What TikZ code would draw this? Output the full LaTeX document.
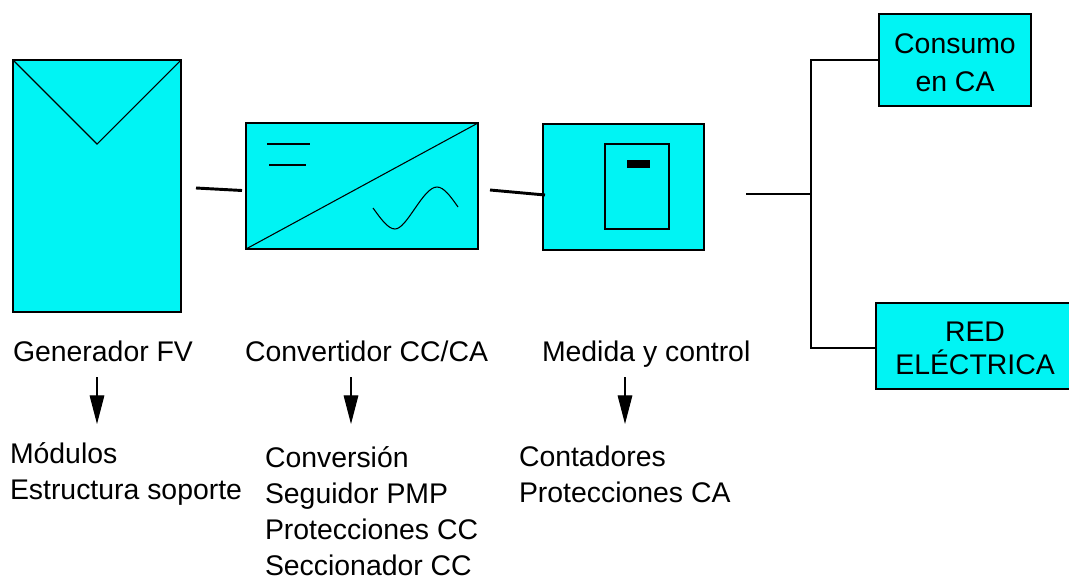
\documentclass[tikz,border=0pt]{standalone}
\usepackage{fontspec}
\setmainfont{Liberation Sans}
\usetikzlibrary{arrows.meta}
\definecolor{panelcyan}{RGB}{0,244,244}
\tikzset{
    block/.style={draw, fill=panelcyan, line width=0.85pt, inner sep=0pt, outer sep=0pt},
    label/.style={inner sep=0pt, outer sep=0pt, align=left, anchor=base west, text depth=0pt, font=\fontsize{21.3}{27}\selectfont},
    boxtext/.style={inner sep=0pt, outer sep=0pt, align=center, font=\fontsize{21.3}{#1}\selectfont},
    wire/.style={line width=2.2pt},
    thin line/.style={line width=0.8pt},
    down/.style={-{Triangle[length=21.5pt,width=11pt]}, line width=0.8pt}
}
\begin{document}
\begin{tikzpicture}[x=0.75pt, y=-0.75pt]
    \useasboundingbox (0,0) rectangle (1069,578);
    % blocks
    \node[block, minimum width=126pt, minimum height=189pt] (gen) at (97,186) {};
    \node[block, minimum width=174pt, minimum height=94.5pt] (conv) at (362,186) {};
    \node[block, minimum width=120.75pt, minimum height=94.5pt] (meter) at (623.5,187) {};
    \node[block, minimum width=48pt, minimum height=63.75pt] (cabinet) at (637,186.5) {};
    \node[fill=black, inner sep=0pt, minimum width=17pt, minimum height=6pt] (display) at (638.5,164) {};
    \node[block, minimum width=114pt, minimum height=69pt] (load) at (955,60) {};
    \node[block, minimum width=148.5pt, minimum height=64.5pt] (grid) at (975,346) {};
    \node[boxtext=28.5] (loadtext) at (955,62.5) {Consumo\\en CA};
    \node[boxtext=24.75] (gridtext) at (975,348.5) {RED\\ELÉCTRICA};
    % symbols
    \coordinate (tip) at (97,144);
    \draw[thin line] (gen.north west) -- (tip) -- (gen.north east);
    \draw[thin line] (conv.south west) -- (conv.north east);
    \draw[thin line] (267,144) -- (310,144);
    \draw[thin line] (269,165) -- (306,165);
    \draw[thin line] (373,208) .. controls (381,219) and (388,229) .. (395,229)
        .. controls (407,229) and (423,187) .. (437,187) .. controls (444,187) and (451,197) .. (458,207);
    % wires
    \coordinate (genout) at (196,188);
    \coordinate (convin) at (242,190.5);
    \coordinate (convout) at (490,190);
    \coordinate (meterin) at (545,195);
    \coordinate (meterout) at (746,194);
    \coordinate (bus) at (811,194);
    \coordinate (gridin) at (876,348);
    \draw[wire] (genout) -- (convin);
    \draw[wire] (convout) -- (meterin);
    \draw[wire] (meterout) -- (bus);
    \draw[wire] (load.west) -| (bus) |- (gridin);
    % labels
    \node[label] (genlabel) at (13,361) {Generador FV};
    \node[label] (convlabel) at (245,361) {Convertidor CC/CA};
    \node[label] (meterlabel) at (542,361) {Medida y control};
    \node[label] (genlist) at (10,499) {Módulos\\Estructura soporte};
    \node[label] (convlist) at (265,575) {Conversión\\Seguidor PMP\\Protecciones CC\\Seccionador CC};
    \node[label] (meterlist) at (519,502) {Contadores\\Protecciones CA};
    % arrows
    \draw[down] (97,377) -- (97,424);
    \draw[down] (351,377) -- (351,424);
    \draw[down] (625,377) -- (625,424);
\end{tikzpicture}
\end{document}
